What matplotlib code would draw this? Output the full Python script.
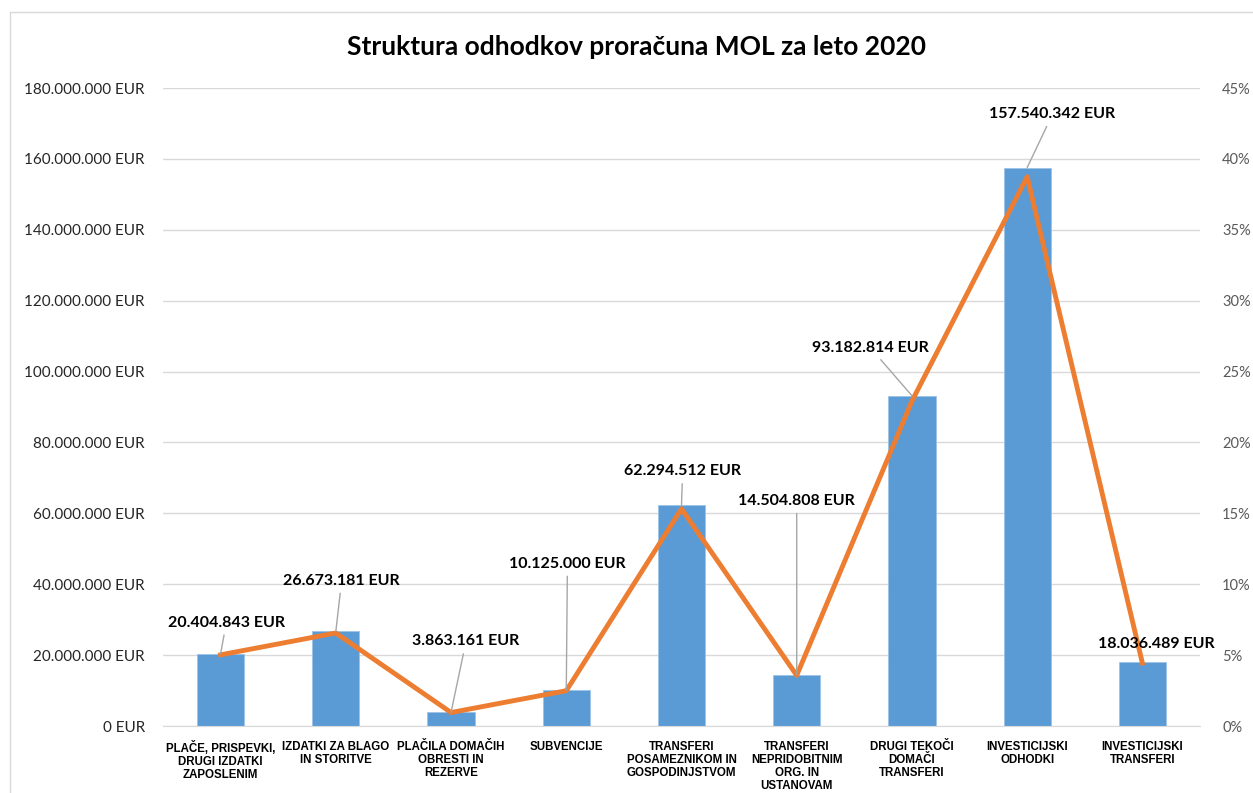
import numpy as np
import matplotlib.pyplot as plt
from matplotlib.patches import Rectangle
from matplotlib.ticker import FuncFormatter

categories = ['PLAČE, PRISPEVKI,\nDRUGI IZDATKI\nZAPOSLENIM',
              'IZDATKI ZA BLAGO\nIN STORITVE',
              'PLAČILA DOMAČIH\nOBRESTI IN\nREZERVE',
              'SUBVENCIJE',
              'TRANSFERI\nPOSAMEZNIKOM IN\nGOSPODINJSTVOM',
              'TRANSFERI\nNEPRIDOBITNIM\nORG. IN\nUSTANOVAM',
              'DRUGI TEKOČI\nDOMAČI\nTRANSFERI',
              'INVESTICIJSKI\nODHODKI',
              'INVESTICIJSKI\nTRANSFERI']
amounts = [20404843, 26673181, 3863161, 10125000, 62294512,
           14504808, 93182814, 157540342, 18036489]
shares = [5.02, 6.56, 0.95, 2.49, 15.32, 3.57, 22.92, 38.74, 4.44]
value_labels = ['20.404.843 EUR', '26.673.181 EUR', '3.863.161 EUR', '10.125.000 EUR',
                '62.294.512 EUR', '14.504.808 EUR', '93.182.814 EUR', '157.540.342 EUR',
                '18.036.489 EUR']

# label positions (x offset in categories, y in EUR)
label_pos = [(0.05, 29.2e6), (0.05, 41.0e6), (0.13, 23.9e6), (0.01, 45.8e6),
             (0.01, 71.9e6), (0.0, 63.5e6), (-0.36, 106.7e6), (0.22, 172.6e6),
             (0.12, 23.1e6)]

fig = plt.figure(figsize=(12.53, 7.93), dpi=100)
ax = fig.add_axes([163 / 1253, 67 / 793, 1037 / 1253, 638 / 793])
ax2 = ax.twinx()

x = np.arange(len(categories))
ax.bar(x, amounts, width=0.41, color='#5B9BD5', edgecolor='#9DC3E6', linewidth=0.6, zorder=2)
ax.set_xlim(-0.5, len(categories) - 0.5)
ax.set_ylim(0, 180e6)
ax.set_yticks(np.arange(0, 180e6 + 1, 20e6))
ax.yaxis.set_major_formatter(FuncFormatter(lambda v, p: f'{int(v):,} EUR'.replace(',', '.')))
ax.grid(axis='y', color='#D9D9D9', linewidth=1, zorder=0)
ax.set_axisbelow(True)
ax.set_xticks(x)
ax.set_xticklabels(categories, fontsize=8.3, fontweight='bold', family='Liberation Sans',
                   linespacing=1.1)
ax.tick_params(axis='x', length=0, pad=11)
ax.tick_params(axis='y', length=0, pad=13, labelsize=11, labelcolor='#262626')
for lab in ax.get_yticklabels():
    lab.set_family('Lato')
for s in ax.spines.values():
    s.set_visible(False)
ax.spines['bottom'].set_visible(True)
ax.spines['bottom'].set_color('#D9D9D9')

ax2.plot(x, shares, color='#ED7D31', linewidth=3.5, zorder=3)
ax2.set_ylim(0, 45)
ax2.set_yticks(np.arange(0, 46, 5))
ax2.yaxis.set_major_formatter(FuncFormatter(lambda v, p: f'{int(v)}%'))
ax2.tick_params(axis='y', length=0, pad=16, labelsize=10.5, labelcolor='#595959')
for lab in ax2.get_yticklabels():
    lab.set_family('Lato')
for s in ax2.spines.values():
    s.set_visible(False)

for i, (amt, txt, (dx, ly)) in enumerate(zip(amounts, value_labels, label_pos)):
    if i == 8:
        ax2.annotate(txt, xy=(i + dx, ly), xycoords=ax.transData, ha='center', va='center',
                     fontsize=11.5, fontweight='bold', family='Lato', zorder=5)
        continue
    ax2.annotate(txt, xy=(i, amt), xycoords=ax.transData,
                 xytext=(i + dx, ly), textcoords=ax.transData,
                 ha='center', va='center', fontsize=11.5, fontweight='bold', family='Lato',
                 arrowprops=dict(arrowstyle='-', color='#A6A6A6', lw=1, shrinkA=2, shrinkB=0),
                 zorder=5)

fig.text(0.508, 1 - 47 / 793, 'Struktura odhodkov proračuna MOL za leto 2020',
         ha='center', va='center', fontsize=19, fontweight='bold', family='Lato')

fig.add_artist(Rectangle((10 / 1253, -0.1), 2, 1 - 12 / 793 + 0.1, fill=False,
                         edgecolor='#D9D9D9', linewidth=1, transform=fig.transFigure))

fig.savefig('out.png', dpi=100)
